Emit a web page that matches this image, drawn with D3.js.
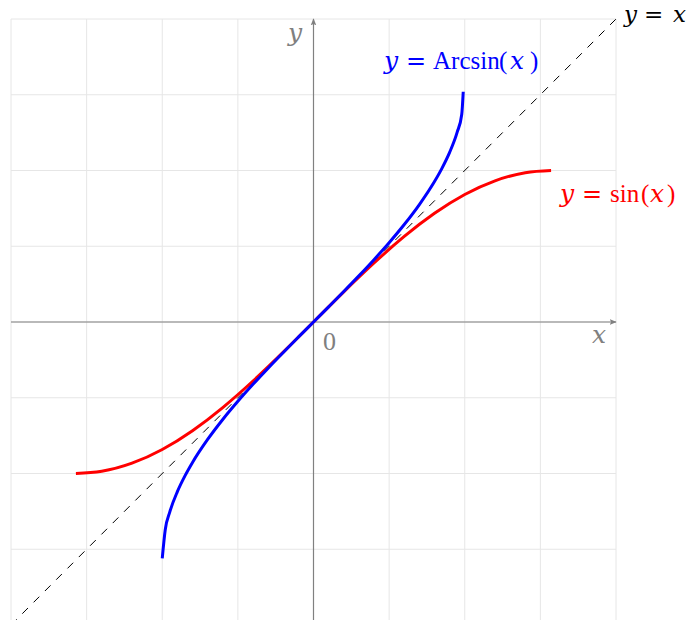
<!DOCTYPE html>
<html><head><meta charset="utf-8">
<script src="https://cdn.jsdelivr.net/npm/d3@7"></script>
<style>
html,body{margin:0;padding:0;background:#fff;}
svg{display:block;}
text{font-family:"Liberation Serif","Times New Roman",serif;}
</style></head>
<body>
<svg id="c" width="691" height="620"></svg>
<script>
// ---- data ----
const gridTicks = [-2, -1.5, -1, -0.5, 0, 0.5, 1, 1.5, 2];
const arcsinX = [-1, -0.98, -0.95, -0.9, -0.85, -0.8, -0.7, -0.6, -0.5, -0.4, -0.3, -0.2, -0.1, 0, 0.1, 0.2, 0.3, 0.4, 0.5, 0.6, 0.7, 0.8, 0.85, 0.9, 0.95, 0.98, 0.99];
const arcsinY = [-1.56, -1.3694, -1.2532, -1.1198, -1.016, -0.9273, -0.7754, -0.6435, -0.5236, -0.4115, -0.3047, -0.2014, -0.1002, 0, 0.1002, 0.2014, 0.3047, 0.4115, 0.5236, 0.6435, 0.7754, 0.9273, 1.016, 1.1198, 1.2532, 1.3694, 1.52];
const sinX = [-1.5708, -1.4, -1.2, -1.0, -0.8, -0.6, -0.4, -0.2, 0, 0.2, 0.4, 0.6, 0.8, 1.0, 1.2, 1.4, 1.5708];
const sinY = [-1, -0.9854, -0.932, -0.8415, -0.7174, -0.5646, -0.3894, -0.1987, 0, 0.1987, 0.3894, 0.5646, 0.7174, 0.8415, 0.932, 0.9854, 1];
const diagX = [-2, 2];
const diagY = [-2, 2];

const svg = d3.select("#c");
const x = d3.scaleLinear().domain([-2, 2]).range([11, 616]);
const y = d3.scaleLinear().domain([-2, 2]).range([625, 19]);

// grid
const g = svg.append("g");
g.selectAll("line.v").data(gridTicks).join("line")
  .attr("x1", d => x(d)).attr("x2", d => x(d))
  .attr("y1", y(2)).attr("y2", y(-2))
  .attr("stroke", "#e6e6e6").attr("stroke-width", 1);
g.selectAll("line.h").data(gridTicks).join("line")
  .attr("y1", d => y(d)).attr("y2", d => y(d))
  .attr("x1", x(-2)).attr("x2", x(2))
  .attr("stroke", "#e6e6e6").attr("stroke-width", 1);

// arrow marker
const defs = svg.append("defs");
defs.append("marker").attr("id", "arr").attr("viewBox", "0 0 10 10")
  .attr("refX", 9).attr("refY", 5).attr("markerWidth", 7).attr("markerHeight", 7)
  .attr("markerUnits", "userSpaceOnUse").attr("orient", "auto")
  .append("path").attr("d", "M0,1 L10,5 L0,9 L2,5 Z").attr("fill", "#808080");

// axes
svg.append("line").attr("x1", x(-2)).attr("x2", x(2)).attr("y1", y(0)).attr("y2", y(0))
  .attr("stroke", "#808080").attr("stroke-width", 1.2).attr("marker-end", "url(#arr)");
svg.append("line").attr("x1", x(0)).attr("x2", x(0)).attr("y1", y(-2)).attr("y2", y(2))
  .attr("stroke", "#808080").attr("stroke-width", 1.2).attr("marker-end", "url(#arr)");

// diagonal y = x
svg.append("path").datum(diagX.map((d, i) => [d, diagY[i]]))
  .attr("d", d3.line().x(d => x(d[0])).y(d => y(d[1])))
  .attr("fill", "none").attr("stroke", "#000").attr("stroke-width", 1)
  .attr("stroke-dasharray", "8,8");

// sin curve
svg.append("path").datum(sinX.map((d, i) => [d, sinY[i]]))
  .attr("d", d3.line().x(d => x(d[0])).y(d => y(d[1])).curve(d3.curveNatural))
  .attr("fill", "none").attr("stroke", "#ff0000").attr("stroke-width", 3);

// arcsin curve
svg.append("path").datum(arcsinX.map((d, i) => [d, arcsinY[i]]))
  .attr("d", d3.line().x(d => x(d[0])).y(d => y(d[1])).curve(d3.curveMonotoneX))
  .attr("fill", "none").attr("stroke", "#0000ff").attr("stroke-width", 3);

// labels: parts = [text, italic, xpos, isEquals]
function label(py, parts, color, size, varSize) {
  const t = svg.append("text").attr("y", py).attr("fill", color).attr("font-size", size || 25);
  parts.forEach(p => {
    const s = t.append("tspan").attr("x", p[2])
      .attr("font-style", p[1] ? "italic" : "normal").text(p[0]);
    if (p[1]) s.style("font-family", "'DejaVu Serif', serif").attr("font-size", varSize || 25);
    if (p[3]) s.style("font-family", "'DejaVu Serif', serif").attr("font-size", varSize ? varSize : 24);
  });
  return t;
}
label(69, [["y", 1, 384], ["=", 0, 406, 1], ["Arcsin", 0, 433], ["(", 0, 499], ["x", 1, 510], [")", 0, 530]], "#0000ff");
label(202, [["y", 1, 560], ["=", 0, 582, 1], ["sin", 0, 610], ["(", 0, 641], ["x", 1, 650], [")", 0, 667]], "#ff0000");
label(22, [["y", 1, 624], ["=", 0, 644, 1], ["x", 1, 673]], "#000", 23, 23);
label(41, [["y", 1, 288]], "#808080");
label(343, [["x", 1, 592]], "#808080");
label(350, [["0", 0, 323]], "#808080", 26);
</script>
</body></html>
